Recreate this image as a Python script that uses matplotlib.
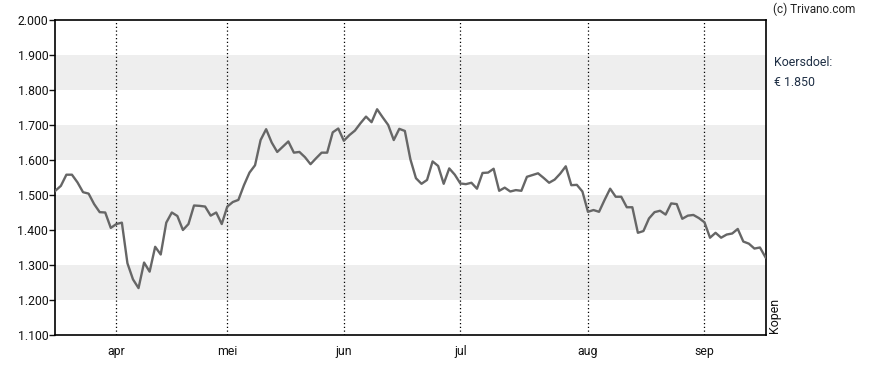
import numpy as np
import matplotlib
matplotlib.use('Agg')
import matplotlib.pyplot as plt

plt.rcParams['font.family'] = ['Roboto', 'DejaVu Sans']

# koers per handelsdag
koers = [
    1.512, 1.526, 1.558, 1.558, 1.536, 1.508, 1.504, 1.474, 1.451, 1.450,
    1.406, 1.417, 1.421, 1.305, 1.259, 1.234, 1.307, 1.281, 1.352, 1.330,
    1.421, 1.450, 1.440, 1.400, 1.417, 1.470, 1.469, 1.467, 1.441, 1.450,
    1.417, 1.467, 1.480, 1.486, 1.528, 1.564, 1.585, 1.657, 1.688, 1.650,
    1.623, 1.638, 1.653, 1.621, 1.623, 1.608, 1.588, 1.605, 1.621, 1.621,
    1.679, 1.690, 1.655, 1.671, 1.684, 1.705, 1.724, 1.708, 1.745, 1.722,
    1.700, 1.657, 1.689, 1.683, 1.602, 1.548, 1.532, 1.543, 1.596, 1.583,
    1.532, 1.576, 1.558, 1.533, 1.531, 1.535, 1.518, 1.563, 1.564, 1.575,
    1.512, 1.521, 1.510, 1.514, 1.512, 1.552, 1.557, 1.562, 1.549, 1.535,
    1.544, 1.561, 1.582, 1.528, 1.529, 1.510, 1.452, 1.457, 1.452, 1.486,
    1.518, 1.495, 1.495, 1.465, 1.465, 1.392, 1.397, 1.433, 1.451, 1.455,
    1.444, 1.476, 1.474, 1.432, 1.441, 1.443, 1.434, 1.422, 1.378, 1.392,
    1.378, 1.387, 1.390, 1.403, 1.367, 1.361, 1.347, 1.350, 1.322,
]
maanden = ['apr', 'mei', 'jun', 'jul', 'aug', 'sep']
maand_idx = [11, 31, 52, 73, 96, 117]
y_ticks = [1.1, 1.2, 1.3, 1.4, 1.5, 1.6, 1.7, 1.8, 1.9, 2.0]
y_labels = ['1.100', '1.200', '1.300', '1.400', '1.500', '1.600', '1.700', '1.800', '1.900', '2.000']
banden = [(1.2, 1.3), (1.4, 1.5), (1.6, 1.7), (1.8, 1.9)]

fig = plt.figure(figsize=(8.88, 3.70), dpi=100)
ax = fig.add_axes([55.3 / 888, 1 - 335 / 370, (765.5 - 55.3) / 888, 315 / 370])

x = np.arange(len(koers))
ax.set_xlim(0, len(koers) - 1)
ax.set_ylim(1.1, 2.0)

for lo, hi in banden:
    ax.axhspan(lo, hi, color='#eeeeee', lw=0, zorder=0)
for m in maand_idx:
    ax.axvline(m, color='black', ls=(0, (1, 2)), lw=0.9, zorder=1)

ax.plot(x, koers, color='#666666', lw=1.7, zorder=3)

ax.set_yticks(y_ticks)
ax.set_yticklabels(y_labels)
ax.set_xticks(maand_idx)
ax.set_xticklabels(maanden)
ax.tick_params(axis='y', length=4, width=1, pad=1, labelsize=8.8, colors='#111111')
ax.tick_params(axis='x', length=0, pad=7, labelsize=8.8, colors='#111111')
for s in ax.spines.values():
    s.set_color('black')
    s.set_linewidth(1.2)

fig.text(773 / 888, 1 - 9 / 370, '(c) Trivano.com', fontsize=8.5, color='#222222', va='center', ha='left')
fig.text(774 / 888, 1 - 63 / 370, 'Koersdoel:', fontsize=8.9, color='#1f2f45', va='center', ha='left')
fig.text(774 / 888, 1 - 82 / 370, '\u20ac 1.850', fontsize=8.9, color='#1f2f45', va='center', ha='left')
fig.text(774 / 888, 1 - 333 / 370, 'Kopen', fontsize=8.9, color='#111111', rotation=90, va='bottom', ha='center')

fig.savefig('out.png', dpi=100)
